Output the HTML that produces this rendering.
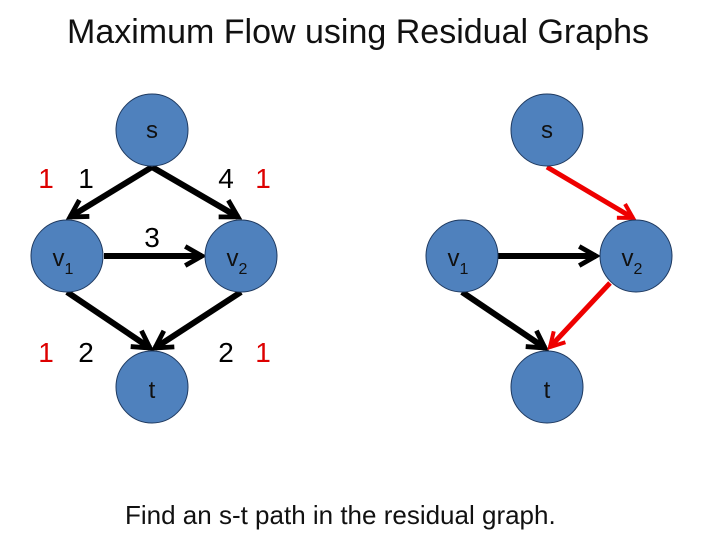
<!DOCTYPE html>
<html><head><style>
body{margin:0;background:#fff;width:720px;height:540px;overflow:hidden;}
svg{display:block;font-family:"Liberation Sans",sans-serif;}
</style></head><body>
<svg width="720" height="540" viewBox="0 0 720 540">
<defs>
<marker id="ab" viewBox="0 0 10 10" refX="8" refY="5" markerWidth="4" markerHeight="4" orient="auto" markerUnits="strokeWidth"><path d="M1,1 L8,5 L1,9" fill="none" stroke="#000" stroke-width="2"/></marker>
<marker id="ar" viewBox="0 0 10 10" refX="8" refY="5" markerWidth="4" markerHeight="4" orient="auto" markerUnits="strokeWidth"><path d="M1,1 L8,5 L1,9" fill="none" stroke="#e00" stroke-width="2"/></marker>
</defs>
<text x="358" y="43" font-size="34" text-anchor="middle" fill="#111">Maximum Flow using Residual Graphs</text>
<g stroke="#000" stroke-width="6" marker-end="url(#ab)">
<line x1="152" y1="167" x2="70" y2="217"/>
<line x1="152" y1="167" x2="238" y2="217"/>
<line x1="104" y1="256" x2="202" y2="256"/>
<line x1="67" y1="292" x2="150" y2="348"/>
<line x1="241" y1="292" x2="155" y2="348"/>
<line x1="498" y1="256" x2="596" y2="256"/>
<line x1="462" y1="292" x2="545" y2="348"/>
</g>
<g stroke="#e00" stroke-width="5" marker-end="url(#ar)">
<line x1="547" y1="167" x2="633" y2="218"/>
<line x1="610" y1="283" x2="550" y2="347"/>
</g>
<g fill="#4f81bd" stroke="#1f3a60" stroke-width="1">
<circle cx="152" cy="130" r="36"/><circle cx="67" cy="256" r="36"/><circle cx="241" cy="256" r="36"/><circle cx="152" cy="387" r="36"/>
<circle cx="547" cy="130" r="36"/><circle cx="462" cy="256" r="36"/><circle cx="636" cy="256" r="36"/><circle cx="547" cy="387" r="36"/>
</g>
<g font-size="24" fill="#111" text-anchor="middle">
<text x="152" y="138">s</text><text x="547" y="138">s</text>
<text x="152" y="398">t</text><text x="547" y="398">t</text>
<text x="63" y="266">v<tspan font-size="16" dy="8">1</tspan></text>
<text x="237" y="266">v<tspan font-size="16" dy="8">2</tspan></text>
<text x="458" y="266">v<tspan font-size="16" dy="8">1</tspan></text>
<text x="632" y="266">v<tspan font-size="16" dy="8">2</tspan></text>
</g>
<g font-size="28" text-anchor="middle">
<text x="46" y="188" fill="#d00">1</text><text x="86" y="188" fill="#000">1</text>
<text x="226" y="188" fill="#000">4</text><text x="263" y="188" fill="#d00">1</text>
<text x="152" y="247" fill="#000">3</text>
<text x="46" y="362" fill="#d00">1</text><text x="86" y="362" fill="#000">2</text>
<text x="226" y="362" fill="#000">2</text><text x="263" y="362" fill="#d00">1</text>
</g>
<text x="125" y="524" font-size="26" fill="#111">Find an s-t path in the residual graph.</text>
</svg>
</body></html>
